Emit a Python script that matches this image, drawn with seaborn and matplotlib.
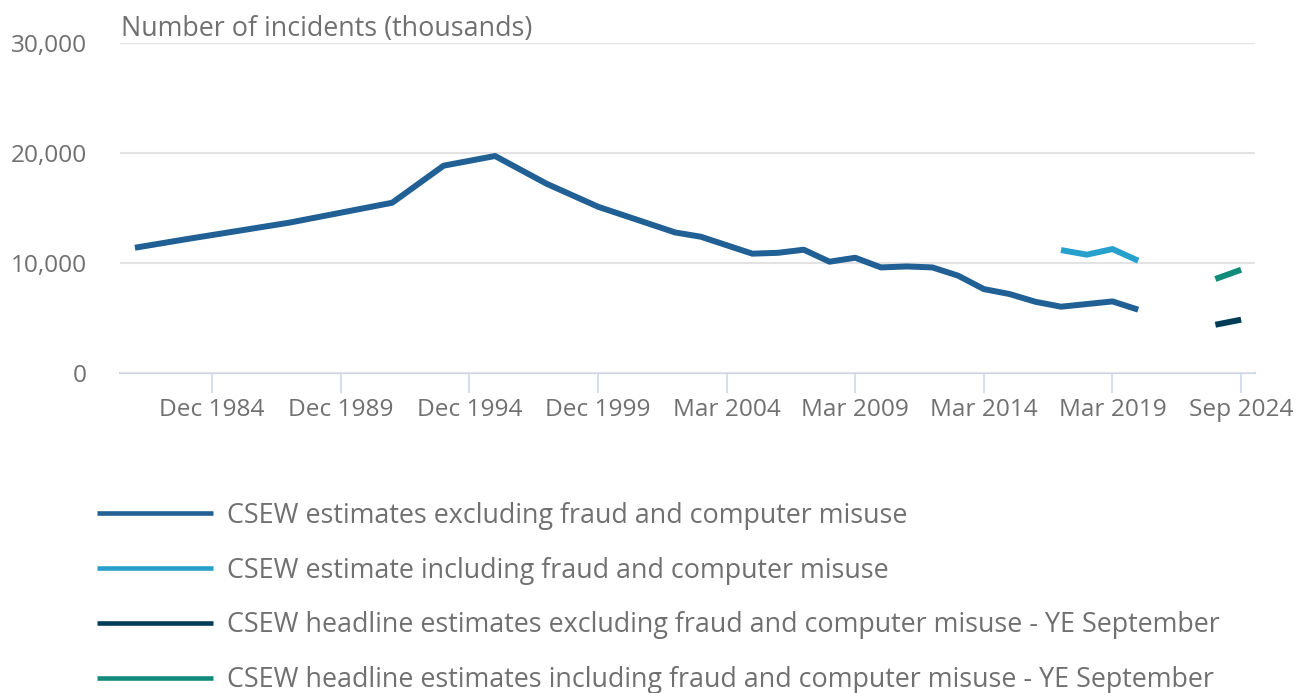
import matplotlib
matplotlib.use("Agg")
import matplotlib.pyplot as plt
import pandas as pd
import seaborn as sns

# period categories on the x axis (one step per year)
periods = ([f"Dec {y}" for y in range(1981, 2001)]
           + [f"Mar {y}" for y in range(2001, 2023)]
           + ["Sep 2023", "Sep 2024"])
tick_labels = ["Dec 1984", "Dec 1989", "Dec 1994", "Dec 1999", "Mar 2004",
               "Mar 2009", "Mar 2014", "Mar 2019", "Sep 2024"]
yticks = [0, 10000, 20000, 30000]

excl_periods = ["Dec 1981", "Dec 1983", "Dec 1987", "Dec 1991", "Dec 1993",
                "Dec 1995", "Dec 1997", "Dec 1999", "Mar 2002", "Mar 2003",
                "Mar 2004", "Mar 2005", "Mar 2006", "Mar 2007", "Mar 2008",
                "Mar 2009", "Mar 2010", "Mar 2011", "Mar 2012", "Mar 2013",
                "Mar 2014", "Mar 2015", "Mar 2016", "Mar 2017", "Mar 2018",
                "Mar 2019", "Mar 2020"]
excl_values = [11360, 12140, 13640, 15450, 18820,
               19700, 17180, 15090, 12750, 12360,
               11590, 10820, 10900, 11180, 10090,
               10450, 9570, 9660, 9570, 8820,
               7600, 7150, 6450, 6000, 6240,
               6480, 5730]

incl_periods = ["Mar 2017", "Mar 2018", "Mar 2019", "Mar 2020"]
incl_values = [11150, 10730, 11240, 10180]

head_excl_periods = ["Sep 2023", "Sep 2024"]
head_excl_values = [4360, 4820]

head_incl_periods = ["Sep 2023", "Sep 2024"]
head_incl_values = [8520, 9360]

series_names = [
    "CSEW estimates excluding fraud and computer misuse",
    "CSEW estimate including fraud and computer misuse",
    "CSEW headline estimates excluding fraud and computer misuse - YE September",
    "CSEW headline estimates including fraud and computer misuse - YE September",
]
colors = ["#206095", "#27a0cc", "#003c57", "#118c7b"]

rows = []
for name, per, vals in zip(series_names,
                           [excl_periods, incl_periods, head_excl_periods, head_incl_periods],
                           [excl_values, incl_values, head_excl_values, head_incl_values]):
    for p, v in zip(per, vals):
        rows.append({"series": name, "x": periods.index(p), "value": v})
df = pd.DataFrame(rows)

sns.set_style("white")
plt.rcParams["font.family"] = ["Open Sans", "DejaVu Sans"]
text_col = "#707070"
tick_fs = 17.6
fs = 19.4

fig = plt.figure(figsize=(12.96, 6.93), dpi=100)
ax = fig.add_axes([120 / 1296, 1 - 372.7 / 693, 1135 / 1296, 330 / 693])

sns.lineplot(data=df, x="x", y="value", hue="series", hue_order=series_names,
             palette=colors, linewidth=4.3, sort=False, ax=ax, legend=True)
for ln in ax.get_lines():
    ln.set_solid_capstyle("butt")
    ln.set_solid_joinstyle("round")

ax.set_xlim(-0.58, 43.54)
ax.set_ylim(0, 30000)
ax.set_xticks([periods.index(t) for t in tick_labels])
ax.set_xticklabels(tick_labels)
ax.set_yticks(yticks)
ax.set_yticklabels([f"{v:,}" for v in yticks])
ax.set_xlabel("")
ax.set_ylabel("")

ax.grid(axis="y", color="#e3e3e3", linewidth=1.5)
ax.grid(axis="x", visible=False)
for s in ["top", "right", "left"]:
    ax.spines[s].set_visible(False)
ax.spines["bottom"].set_color("#c9d4e9")
ax.spines["bottom"].set_linewidth(1.5)
ax.spines["bottom"].set_zorder(0.5)

ax.tick_params(axis="x", length=14.4, width=1.1, color="#c9d4e9",
               labelsize=tick_fs, labelcolor=text_col, pad=3.5, bottom=True)
ax.tick_params(axis="y", length=0, labelsize=tick_fs, labelcolor=text_col, pad=24)

fig.text(121 / 1296, 1 - 29 / 693, "Number of incidents (thousands)",
         fontsize=fs, color=text_col, ha="left", va="center")

handles, labels = ax.get_legend_handles_labels()
ax.get_legend().remove()
fs_px = fs * 100 / 72
leg = fig.legend(handles, labels, loc="center left",
                 bbox_to_anchor=(97 / 1296, 1 - 598 / 693),
                 frameon=False, borderpad=0, borderaxespad=0,
                 handlelength=116 / fs_px, handletextpad=14 / fs_px,
                 labelspacing=1.0, fontsize=fs, labelcolor=text_col)
for h in leg.get_lines():
    h.set_linewidth(3.3)
    h.set_solid_capstyle("butt")

fig.savefig("out.png", dpi=100)
